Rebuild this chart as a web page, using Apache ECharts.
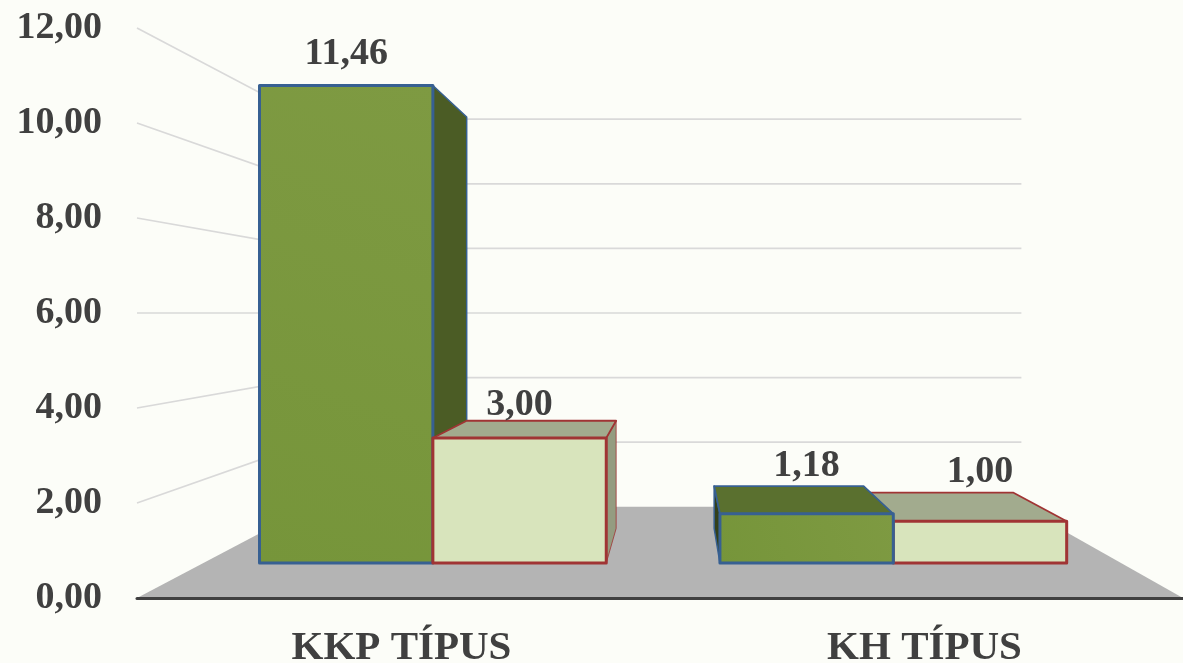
<!DOCTYPE html>
<html>
<head>
<meta charset="utf-8">
<style>html,body{margin:0;padding:0;background:#FCFDF8}#c{width:1183px;height:663px}</style>
<script src="https://cdn.jsdelivr.net/npm/echarts@6/dist/echarts.min.js"></script>
</head>
<body>
<div id="c"></div>
<script>
var categories = ['KKP TÍPUS', 'KH TÍPUS'];
var darkValues = [11.46, 1.18];
var lightValues = [3.00, 1.00];
var tickValues = [0, 2, 4, 6, 8, 10, 12];

var FONT = '"Liberation Serif", serif';
var TEXT = '#404040';
var VP_X = 678, S_BACK = 0.68, S_BAR_FRONT = 0.877, S_BAR_BACK = 0.756, BAR_FRAC = 0.378;
var styles = [
  {front: new echarts.graphic.LinearGradient(0,1,1,0,[{offset:0,color:'#76953A'},{offset:1,color:'#7E9A42'}]), side:'#4B5C25', sideL:'#33401A', top:'#5A702F', stroke:'#376092'},
  {front: '#D8E4BC', side:'#949C80', sideL:'#949C80', top:'#A2AB8E', stroke:'#A03434'}
];
// label lift above the top edge: [category][series]
var labelLift = [[31, 16], [20, 20]];
// small horizontal nudge of each bar group on the front plane
var catNudge = [0, 2];

function fmt(v){ return v.toFixed(2).replace('.', ','); }

var barRows = [];
categories.forEach(function(c, i){
  var a = [i, 0, darkValues[i]], b = [i, 1, lightValues[i]];
  // painter order: bars further from the vanishing point are drawn first in their side
  if (i === 0) { barRows.push(a, b); } else { barRows.push(b, a); }
});

function project(api, p, s){
  var vy = api.coord([0, 6])[1];
  return [VP_X + (p[0] - VP_X) * s, vy + (p[1] - vy) * s];
}
function poly(points, fill, stroke, lw, z2){
  return {type:'polygon', shape:{points:points}, z2:z2||0,
    style:{fill:fill, stroke:stroke||null, lineWidth:lw||0, lineJoin:'round'}};
}

function renderWall(params, api){
  var v = api.value(0), cs = params.coordSys;
  var y = api.coord([0, v])[1];
  var left = cs.x, right = cs.x + cs.width;
  var b = project(api, [left, y], S_BACK);
  var br = project(api, [right, y], S_BACK);
  var kids = [];
  if (v === 0) {
    kids.push(poly([[left, y], [right, y], br, b], '#B4B4B4'));
  } else {
    kids.push({type:'polyline', shape:{points:[[left, y], b, br]},
      style:{fill:null, stroke:'#D9D9D9', lineWidth:1.7}});
  }
  return {type:'group', children:kids};
}

function renderBar(params, api){
  var cat = api.value(0), ser = api.value(1), val = api.value(2);
  var st = styles[ser];
  var cx = api.coord([cat, 0])[0] + catNudge[cat];
  var bw = api.size([1, 0])[0] * BAR_FRAC;
  var x0 = ser === 0 ? cx - bw : cx, x1 = x0 + bw;
  var yb = api.coord([cat, 0])[1], yt = api.coord([cat, val])[1];
  var f = function(x, y){ return project(api, [x, y], S_BAR_FRONT); };
  var k = function(x, y){ return project(api, [x, y], S_BAR_BACK); };
  var kids = [];
  var vy = api.coord([0, 6])[1];
  var ftl = f(x0, yt), ftr = f(x1, yt), fbl = f(x0, yb), fbr = f(x1, yb);
  var ktl = k(x0, yt), ktr = k(x1, yt), kbl = k(x0, yb), kbr = k(x1, yb);
  if (ftr[0] < VP_X) {
    kids.push(poly([ftr, ktr, kbr, fbr], st.side, st.stroke, ser === 0 ? 1.5 : 0.8));
  }
  if (ftl[0] > VP_X) {
    kids.push(poly([ftl, ktl, kbl, fbl], st.sideL, st.stroke, 1.5));
  }
  if (ftl[1] > vy) {
    kids.push(poly([ftl, ftr, ktr, ktl], st.top, st.stroke, 1.8));
  }
  kids.push(poly([ftl, ftr, fbr, fbl], st.front, st.stroke, 3));
  var topY = Math.min(ftl[1], ktl[1]);
  kids.push({type:'text', z2:50, style:{
    text: fmt(val), x:(ftl[0] + ftr[0]) / 2, y: topY - labelLift[cat][ser],
    align:'center', verticalAlign:'middle',
    font:'bold 38px ' + FONT, fill:TEXT}});
  return {type:'group', children:kids};
}

var chart = echarts.init(document.getElementById('c'), null, {renderer:'canvas'});
chart.setOption({
  animation:false,
  backgroundColor:'#FCFDF8',
  grid:{left:137, right:0, top:28, bottom:65, containLabel:false, outerBoundsMode:'none'},
  xAxis:{type:'category', data:categories, z:10,
    axisLine:{show:true, lineStyle:{color:'#404040', width:3}},
    axisTick:{show:false},
    axisLabel:{color:TEXT, fontFamily:FONT, fontWeight:'bold', fontSize:41, margin:30, padding:[0,0,0,6]}},
  yAxis:{type:'value', min:0, max:12, interval:2,
    axisLine:{show:false}, axisTick:{show:false}, splitLine:{show:false},
    axisLabel:{color:TEXT, fontFamily:FONT, fontWeight:'bold', fontSize:38, margin:35, padding:[8,0,0,0],
      formatter:function(v){ return fmt(v); }}},
  series:[
    {type:'custom', z:1, silent:true, clip:false, renderItem:renderWall,
     data:tickValues.map(function(v){ return [v]; }), encode:{y:0}},
    {type:'custom', z:3, silent:true, clip:false, renderItem:renderBar,
     data:barRows, encode:{x:0, y:2}}
  ]
});
</script>
</body>
</html>
